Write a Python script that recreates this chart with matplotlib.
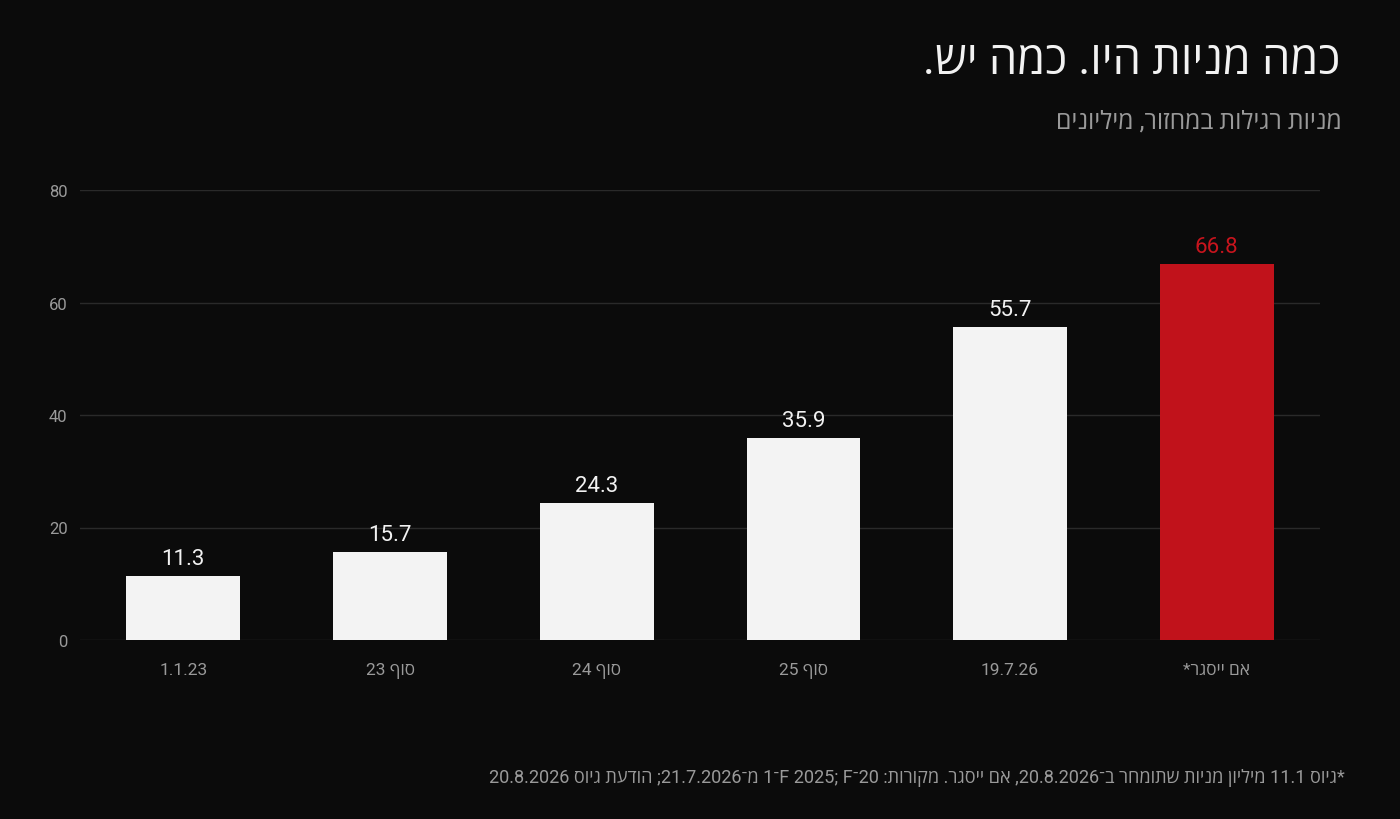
import matplotlib
matplotlib.use("Agg")
import matplotlib.pyplot as plt

# ---- data ----
categories = ["1.1.23", "סוף 23", "סוף 24", "סוף 25", "19.7.26", "אם ייסגר*"]
values = [11.3, 15.7, 24.3, 35.9, 55.7, 66.8]
value_labels = ["11.3", "15.7", "24.3", "35.9", "55.7", "66.8"]
yticks = [0, 20, 40, 60, 80]
title = "כמה מניות היו. כמה יש."
subtitle = "מניות רגילות במחזור, מיליונים"

HEB = set(chr(c) for c in range(0x0590, 0x0600))


def vis(s):
    """Visual (left-to-right) order for an RTL string: reverse word order,
    reverse letters of words that contain Hebrew, keep the rest as is."""
    out = []
    for w in s.split(" ")[::-1]:
        if any(ch in HEB for ch in w):
            toks, cur, isnum = [], "", None
            for ch in w:
                n = ch.isdigit() or (ch == "." and cur and isnum)
                if isnum is None or n == isnum:
                    cur += ch
                else:
                    toks.append((cur, isnum)); cur = ch
                isnum = n
            toks.append((cur, isnum))
            out.append("".join(t if num else t[::-1] for t, num in toks[::-1]))
        else:
            out.append(w)
    return " ".join(out)


# footnote in visual order, as displayed
footnote = ("20.8.2026 " + "גיוס"[::-1] + " " + "הודעת"[::-1] + " ;21.7.2026" + "־" + "מ"
            + " 1־F 2025; F־20 :" + "מקורות"[::-1] + " ." + "ייסגר"[::-1] + " " + "אם"[::-1]
            + " ,20.8.2026" + "־" + "ב" + " " + "שתומחר"[::-1] + " " + "מניות"[::-1] + " "
            + "מיליון"[::-1] + " 11.1 " + "גיוס"[::-1] + "*")

FAM = ["Roboto", "Open Sans", "DejaVu Sans"]
plt.rcParams["font.family"] = FAM

BG = "#0b0b0b"
WHITE_BAR = "#f3f3f3"
RED = "#c1121b"
GRAY = "#9a9a9a"

fig = plt.figure(figsize=(14, 8.2), dpi=100, facecolor=BG)
ax = fig.add_axes([80 / 1400, 179 / 820, 1240 / 1400, 450 / 820])
ax.set_facecolor(BG)

x = list(range(len(categories)))
colors = [WHITE_BAR] * (len(values) - 1) + [RED]
ax.bar(x, values, width=0.55, color=colors, zorder=3)

for xi, v, lab, c in zip(x, values, value_labels, colors):
    tc = "#f2f2f2" if c != RED else "#c8141d"
    ax.annotate(lab, (xi, v), xytext=(0, 5), textcoords="offset points",
                ha="center", va="bottom", fontsize=16, color=tc)

ax.set_xlim(-0.5, 5.5)
ax.set_ylim(0, 80)
ax.set_yticks(yticks)
ax.set_yticklabels([str(t) for t in yticks])
ax.set_xticks(x)
ax.set_xticklabels([vis(c) for c in categories])
ax.tick_params(axis="y", length=0, pad=9, labelsize=12, labelcolor=GRAY)
ax.tick_params(axis="x", length=0, pad=15.5, labelsize=12.5, labelcolor=GRAY)
ax.grid(axis="y", color="#2a2a2a", linewidth=1, zorder=0)
for s in ax.spines.values():
    s.set_visible(False)

fig.text(1340 / 1400, 1 - 62 / 820, vis(title), ha="right", va="center",
         fontsize=32.5, color="#f2f2f2")
fig.text(1342 / 1400, 1 - 121 / 820, vis(subtitle), ha="right", va="center",
         fontsize=17.8, color=GRAY)
fig.text(1345 / 1400, 1 - 778 / 820, footnote, ha="right", va="center",
         fontsize=13.1, color=GRAY)

fig.savefig("out.png", dpi=100, facecolor=BG)
